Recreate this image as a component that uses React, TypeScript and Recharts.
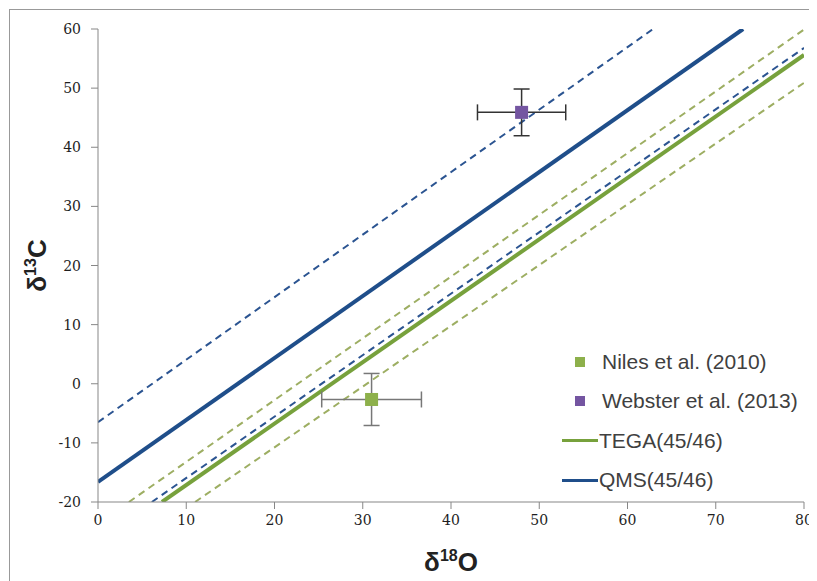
import {
  ComposedChart,
  ErrorBar,
  Label,
  Line,
  Scatter,
  XAxis,
  YAxis,
} from "recharts";

const xTicks = [0, 10, 20, 30, 40, 50, 60, 70, 80];
const yTicks = [-20, -10, 0, 10, 20, 30, 40, 50, 60];

// line end points
const qmsLine = [{ x: 0, y: -16.6 }, { x: 73.1, y: 60 }];
const qmsUpper = [{ x: 0, y: -6.5 }, { x: 62.9, y: 60 }];
const qmsLower = [{ x: 6.1, y: -20 }, { x: 80, y: 56.8 }];
const tegaLine = [{ x: 7.25, y: -20 }, { x: 80, y: 55.6 }];
const tegaUpper = [{ x: 3.5, y: -20 }, { x: 80, y: 59.9 }];
const tegaLower = [{ x: 11, y: -20 }, { x: 80, y: 50.9 }];

const niles = [{ x: 31, y: -2.66, ex: 5.65, ey: 4.4 }];
const webster = [{ x: 48, y: 45.9, ex: 5, ey: 3.95 }];

const legendItems = [
  { name: "Niles et al. (2010)", color: "#8DB04B", kind: "square" },
  { name: "Webster et al. (2013)", color: "#7455A1", kind: "square" },
  { name: "TEGA(45/46)", color: "#77A13C", kind: "line" },
  { name: "QMS(45/46)", color: "#1F4E8A", kind: "line" },
];

const BLUE = "#1F4E8A";
const BLUE_DASH = "#2B5491";
const GREEN = "#77A13C";
const GREEN_DASH = "#9DAE62";
const AXIS = "#878787";

const squareShape = (color: string) => (props: any) => {
  const { cx, cy } = props;
  if (cx == null || cy == null) return <g />;
  return <rect x={cx - 6.5} y={cy - 6.5} width={13} height={13} fill={color} />;
};

function ChartLegend() {
  return (
    <div
      style={{
        position: "absolute",
        left: 554,
        top: 334,
        fontFamily: "Liberation Sans",
        fontSize: 21,
        color: "#404040",
        lineHeight: "24px",
      }}
    >
      {legendItems.map((item) => (
        <div key={item.name} style={{ height: 39.5, display: "flex", alignItems: "center" }}>
          {item.kind === "square" ? (
            <span
              style={{
                display: "inline-block",
                width: 10,
                height: 10,
                marginLeft: 13,
                marginRight: 17,
                background: item.color,
              }}
            />
          ) : (
            <span
              style={{
                display: "inline-block",
                width: 36,
                height: 3,
                marginRight: 1,
                background: item.color,
              }}
            />
          )}
          <span style={{ whiteSpace: "nowrap" }}>{item.name}</span>
        </div>
      ))}
    </div>
  );
}

function XLabel(props: any) {
  const { viewBox } = props;
  const cx = viewBox.x + viewBox.width / 2;
  return (
    <text x={cx} y={viewBox.y + 69} textAnchor="middle" fontFamily="Liberation Sans" fontWeight="bold" fontSize={26} fill="#222">
      δ<tspan fontSize={16} dy={-10}>18</tspan>
      <tspan dy={10}>O</tspan>
    </text>
  );
}

function YLabel(props: any) {
  const { viewBox } = props;
  const x = 38;
  const cy = viewBox.y + viewBox.height / 2;
  return (
    <text
      x={x}
      y={cy}
      textAnchor="middle"
      transform={`rotate(-90, ${x}, ${cy})`}
      fontFamily="Liberation Sans"
      fontWeight="bold"
      fontSize={26}
      fill="#222"
    >
      δ<tspan fontSize={16} dy={-10}>13</tspan>
      <tspan dy={10}>C</tspan>
    </text>
  );
}

const renderXTick = (props: any) => {
  const { x, y, payload } = props;
  return (
    <text
      x={x}
      y={y + 14}
      textAnchor="middle"
      style={{ fontFamily: "'DejaVu Serif'", fontSize: "14px", fill: "#1e1e1e" }}
    >
      {payload.value}
    </text>
  );
};

const renderYTick = (props: any) => {
  const { x, y, payload } = props;
  return (
    <text
      x={x - 1}
      y={y + 5}
      textAnchor="end"
      style={{ fontFamily: "'DejaVu Serif'", fontSize: "14px", fill: "#1e1e1e" }}
    >
      {payload.value}
    </text>
  );
};

export default function App() {
  return (
    <div style={{ position: "relative", width: 809, height: 573 }}>
      <div
        style={{
          position: "absolute",
          left: 1,
          top: 1,
          right: 0,
          bottom: 0,
          borderLeft: "1px solid #999",
          borderTop: "1px solid #999",
        }}
      />
      <ComposedChart
        width={809}
        height={573}
        margin={{ top: 21, right: 13, left: 0, bottom: 49 }}
        style={{ overflow: "visible" }}
      >
        <XAxis
          type="number"
          dataKey="x"
          domain={[0, 80]}
          ticks={xTicks}
          interval={0}
          allowDataOverflow
          stroke={AXIS}
          tickSize={7}
          tickMargin={2}
          tick={renderXTick}
          height={30}
        >
          <Label content={<XLabel />} />
        </XAxis>
        <YAxis
          type="number"
          dataKey="y"
          domain={[-20, 60]}
          ticks={yTicks}
          interval={0}
          allowDataOverflow
          stroke={AXIS}
          tickSize={7}
          tickMargin={9}
          tick={renderYTick}
          width={90}
        >
          <Label content={<YLabel />} />
        </YAxis>
        <Line data={qmsUpper} dataKey="y" type="linear" stroke={BLUE_DASH} strokeWidth={2} strokeDasharray="7 5" dot={false} isAnimationActive={false} />
        <Line data={tegaUpper} dataKey="y" type="linear" stroke={GREEN_DASH} strokeWidth={2} strokeDasharray="7 5" dot={false} isAnimationActive={false} />
        <Line data={qmsLower} dataKey="y" type="linear" stroke={BLUE_DASH} strokeWidth={2} strokeDasharray="7 5" dot={false} isAnimationActive={false} />
        <Line data={tegaLower} dataKey="y" type="linear" stroke={GREEN_DASH} strokeWidth={2} strokeDasharray="7 5" dot={false} isAnimationActive={false} />
        <Line data={tegaLine} dataKey="y" type="linear" stroke={GREEN} strokeWidth={4} dot={false} isAnimationActive={false} />
        <Line data={qmsLine} dataKey="y" type="linear" stroke={BLUE} strokeWidth={4} dot={false} isAnimationActive={false} />
        <Scatter data={niles} dataKey="y" shape={squareShape("#8DB04B")} isAnimationActive={false}>
          <ErrorBar dataKey="ex" direction="x" width={8} stroke="#777" strokeWidth={1.5} />
          <ErrorBar dataKey="ey" direction="y" width={8} stroke="#777" strokeWidth={1.5} />
        </Scatter>
        <Scatter data={webster} dataKey="y" shape={squareShape("#7455A1")} isAnimationActive={false}>
          <ErrorBar dataKey="ex" direction="x" width={8} stroke="#333" strokeWidth={1.5} />
          <ErrorBar dataKey="ey" direction="y" width={8} stroke="#333" strokeWidth={1.5} />
        </Scatter>
      </ComposedChart>
      <ChartLegend />
    </div>
  );
}
